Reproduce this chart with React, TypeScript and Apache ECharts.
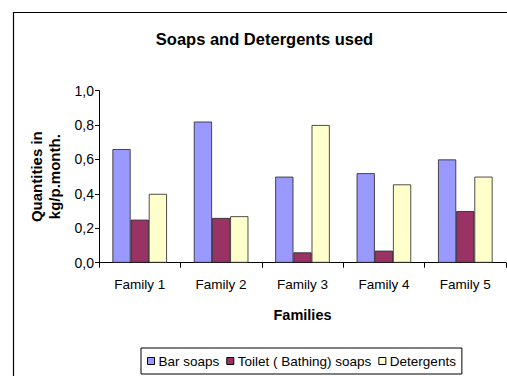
import React, { useEffect, useRef } from "react";
import * as echarts from "echarts";

const categories = ["Family 1", "Family 2", "Family 3", "Family 4", "Family 5"];
const barSoaps = [0.66, 0.82, 0.5, 0.52, 0.6];
const toiletSoaps = [0.25, 0.26, 0.06, 0.07, 0.3];
const detergents = [0.4, 0.27, 0.8, 0.455, 0.5];
const seriesNames = ["Bar soaps", "Toilet ( Bathing) soaps", "Detergents"];
const seriesColors = ["#9999FF", "#993366", "#FFFFCC"];

const FONT = "'Liberation Sans', Arial, sans-serif";

export default function App() {
  const ref = useRef<HTMLDivElement>(null);
  useEffect(() => {
    if (!ref.current) return;
    const chart = echarts.init(ref.current, undefined, { renderer: "svg" });
    const values = [barSoaps, toiletSoaps, detergents];
    chart.setOption({
      animation: false,
      backgroundColor: "#ffffff",
      textStyle: { fontFamily: FONT },
      graphic: [
        {
          type: "rect",
          shape: { x: 13.5, y: 12.5, width: 600, height: 400 },
          style: { fill: "none", stroke: "#000", lineWidth: 1.2 },
          silent: true,
        },
        {
          type: "text",
          x: 264.5,
          y: 39,
          style: {
            text: "Soaps and Detergents used",
            fontFamily: FONT,
            fontSize: 16.5,
            fontWeight: "bold",
            fill: "#000",
            textAlign: "center",
            textVerticalAlign: "middle",
          },
        },
      ],
      legend: {
        left: 141,
        top: 348,
        padding: [6, 6, 6, 6],
        borderColor: "#000",
        borderWidth: 1,
        itemWidth: 7,
        itemHeight: 7,
        itemGap: 7,
        icon: "rect",
        textStyle: { fontFamily: FONT, fontSize: 13.5, color: "#000", padding: [0, 0, 0, -1] },
        itemStyle: { borderColor: "#000", borderWidth: 1 },
        data: seriesNames,
      },
      grid: { left: 99, top: 90.6, right: 1, bottom: 113.3, containLabel: false },
      xAxis: {
        type: "category",
        data: categories,
        name: "Families",
        nameLocation: "middle",
        nameGap: 45,
        nameTextStyle: { fontFamily: FONT, fontSize: 14.5, fontWeight: "bold", color: "#000" },
        axisLine: { lineStyle: { color: "#000", width: 1 } },
        axisTick: { show: true, length: 5, lineStyle: { color: "#000" } },
        axisLabel: { fontFamily: FONT, fontSize: 13.5, color: "#000", margin: 15 },
        splitLine: { show: false },
      },
      yAxis: {
        type: "value",
        min: 0,
        max: 1,
        interval: 0.2,
        name: "Quantities in\nkg/p.month.",
        nameLocation: "middle",
        nameRotate: 90,
        nameGap: 36,
        nameTextStyle: {
          fontFamily: FONT,
          fontSize: 15,
          fontWeight: "bold",
          color: "#000",
          lineHeight: 18,
        },
        axisLine: { show: true, lineStyle: { color: "#000", width: 1 } },
        axisTick: { show: true, length: 4, lineStyle: { color: "#000" } },
        axisLabel: {
          fontFamily: FONT,
          fontSize: 14,
          color: "#000",
          margin: 5,
          formatter: (v: number) => v.toFixed(1).replace(".", ","),
        },
        splitLine: { show: false },
      },
      series: seriesNames.map((name, i) => ({
        name,
        type: "bar",
        data: values[i],
        barGap: "0%",
        barCategoryGap: "33%",
        itemStyle: { color: seriesColors[i], borderColor: "#222", borderWidth: 0.8 },
      })),
    });
    return () => chart.dispose();
  }, []);
  return (
    <div
      ref={ref}
      style={{ position: "fixed", left: 0, top: 0, width: 507, height: 376 }}
    />
  );
}
